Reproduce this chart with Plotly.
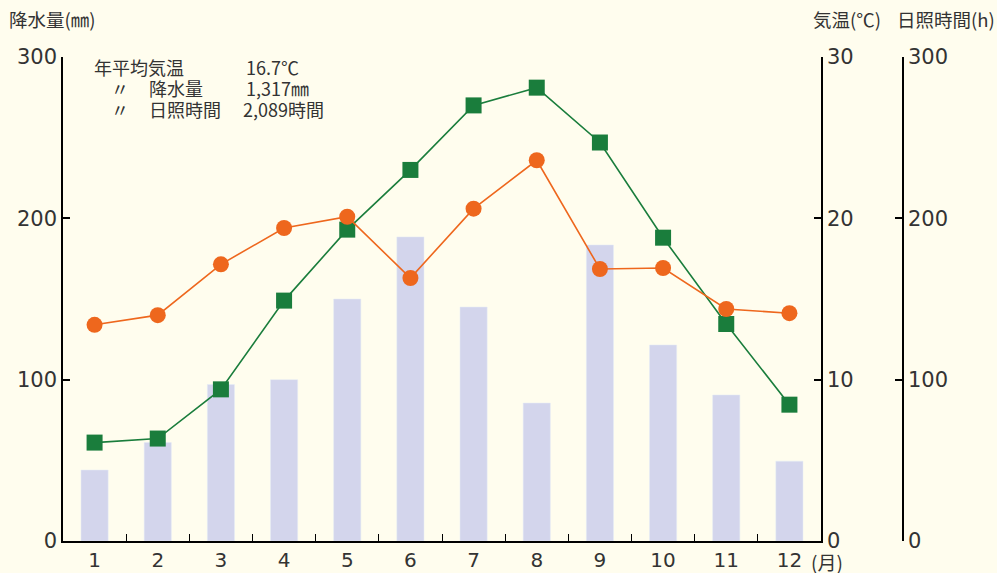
import plotly.graph_objects as go

months = ["1", "2", "3", "4", "5", "6", "7", "8", "9", "10", "11", "12"]
precip = [44, 61, 97, 100, 150, 188.5, 145, 85.5, 183.5, 121.5, 90.5, 49.5]
temp = [6.1, 6.35, 9.4, 14.9, 19.3, 23.0, 27.0, 28.1, 24.7, 18.8, 13.45, 8.45]
sun = [134, 140, 171.5, 194, 201, 163, 206, 236, 168.6, 169.2, 143.8, 141.2]

BG = "#FFFDEE"
TXT = "#333333"
FONT = "Noto Sans CJK JP"
NUMFONT = "DejaVu Sans"

W, H = 997, 573
ML, MR, MT, MB = 63, 0, 57, 32
PW = W - ML - MR
PH = H - MT - MB


def px(x):
    return (x - ML) / PW


def py(y):
    return (H - MB - y) / PH


fig = go.Figure()
fig.add_trace(go.Bar(x=months, y=precip, marker_color="#D3D5EC", width=0.43,
                     yaxis="y", name="降水量"))
fig.add_trace(go.Scatter(x=months, y=temp, yaxis="y2", mode="lines+markers",
                         line=dict(color="#1A7D3C", width=1.6),
                         marker=dict(symbol="square", size=16, color="#1A7D3C"),
                         name="気温"))
fig.add_trace(go.Scatter(x=months, y=sun, yaxis="y3", mode="lines+markers",
                         line=dict(color="#EE671D", width=1.6),
                         marker=dict(symbol="circle", size=16, color="#EE671D"),
                         name="日照時間"))

axis_common = dict(showline=True, linecolor="black", linewidth=1.5,
                   ticks="inside", ticklen=7, tickcolor="black", tickwidth=1.5,
                   showgrid=False, zeroline=False, automargin=False,
                   tickfont=dict(family=NUMFONT, size=21, color="#333333"))

x_end = px(821)
fig.update_layout(
    width=W, height=H,
    margin=dict(l=ML, r=MR, t=MT, b=MB, autoexpand=False),
    paper_bgcolor=BG, plot_bgcolor=BG,
    showlegend=False,
    xaxis=dict(domain=[0, x_end], type="category", range=[-0.5, 11.5],
               showline=True,
               linecolor="black", linewidth=1.5, ticks="inside",
               tickson="boundaries", ticklen=7, tickcolor="black",
               tickwidth=1.2, showgrid=False, automargin=False,
               tickfont=dict(family=NUMFONT, size=20, color="#333333")),
    yaxis=dict(range=[0, 300], tickvals=[0, 100, 200, 300], **axis_common),
    yaxis2=dict(range=[0, 30], tickvals=[0, 10, 20, 30], overlaying="y",
                side="right", anchor="x", **axis_common),
    yaxis3=dict(range=[0, 300], tickvals=[0, 100, 200, 300], overlaying="y",
                side="right", anchor="free", position=px(903), **axis_common),
)

ann = []


def add_text(text, x, y, size=18, xanchor="left", family=FONT):
    ann.append(dict(text=text, x=px(x), y=py(y), xref="paper", yref="paper",
                    xanchor=xanchor, yanchor="middle", showarrow=False,
                    font=dict(family=family, size=size, color=TXT)))


add_text("降水量(㎜)", 7, 19, size=18.5)
add_text("気温(℃)", 811, 19, size=18.5)
add_text("日照時間(h)", 895, 19, size=18.5)
add_text("(月)", 809, 561, size=19)

add_text("年平均気温", 92, 67)
add_text("16.7℃", 244, 67)
add_text("〃", 120, 88, xanchor="center")
add_text("降水量", 147, 88)
add_text("1,317㎜", 244, 88)
add_text("〃", 120, 109, xanchor="center")
add_text("日照時間", 147, 109)
add_text("2,089時間", 241, 109)

fig.update_layout(annotations=ann)

fig.write_html(
    "out.html",
    config={"displayModeBar": False},
    post_script="document.body.style.margin='0';"
                "document.body.style.padding='0';"
                "document.body.style.background='" + BG + "';",
)
